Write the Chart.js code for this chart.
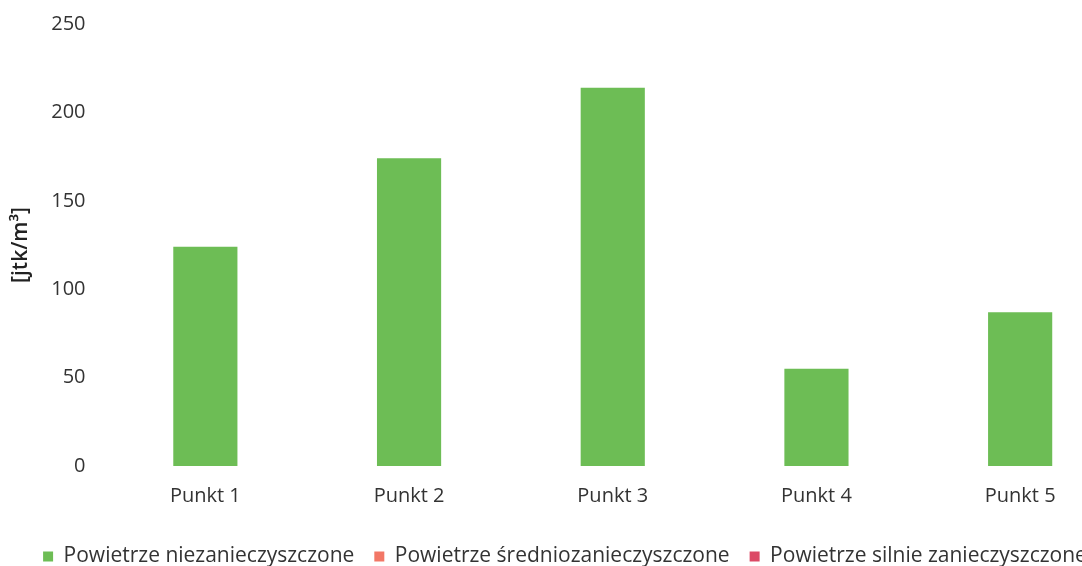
<!DOCTYPE html>
<html>
<head>
<meta charset="utf-8">
<script src="https://cdn.jsdelivr.net/npm/chart.js@4/dist/chart.umd.min.js"></script>
<style>
html,body{margin:0;padding:0;background:#fff;overflow:hidden;}
#wrap{width:1126px;height:566px;position:relative;}
</style>
</head>
<body>
<div id="wrap"><canvas id="c" width="1126" height="566"></canvas></div>
<script>
const categories = ["Punkt 1", "Punkt 2", "Punkt 3", "Punkt 4", "Punkt 5"];
const seriesNames = ["Powietrze niezanieczyszczone", "Powietrze średniozanieczyszczone", "Powietrze silnie zanieczyszczone"];
const cleanAir = [124, 174, 214, 55, 87];
const mediumAir = [null, null, null, null, null];
const heavyAir = [null, null, null, null, null];
const yTicks = [0, 50, 100, 150, 200, 250];
const yTitle = "[jtk/m³]";

const FONT = "'Open Sans', Lato, sans-serif";
new Chart(document.getElementById('c'), {
  type: 'bar',
  data: {
    labels: categories,
    datasets: [
      {label: seriesNames[0], data: cleanAir, backgroundColor: '#6dbd55', grouped: false},
      {label: seriesNames[1], data: mediumAir, backgroundColor: '#f27766', grouped: false},
      {label: seriesNames[2], data: heavyAir, backgroundColor: '#dc4a66', grouped: false}
    ]
  },
  options: {
    responsive: false,
    animation: false,
    layout: {padding: {left: 8, right: 4, top: 0, bottom: -11}},
    datasets: {bar: {categoryPercentage: 1, barPercentage: 0.315}},
    plugins: {
      tooltip: {enabled: false},
      legend: {
        position: 'bottom',
        labels: {
          boxWidth: 10, boxHeight: 10, padding: 20,
          color: '#333', font: {family: FONT, size: 21}
        }
      }
    },
    scales: {
      x: {
        grid: {display: false, drawTicks: false},
        border: {display: false},
        ticks: {color: '#333', font: {family: FONT, size: 20}, padding: 18}
      },
      y: {
        min: 0, max: 250,
        afterBuildTicks: s => { s.ticks = yTicks.map(v => ({value: v})); },
        grid: {display: false, drawTicks: false},
        border: {display: false},
        ticks: {color: '#333', font: {family: FONT, size: 20, lineHeight: 0.6}, padding: 18},
        title: {display: true, text: yTitle, color: '#222', font: {family: FONT, size: 21, weight: '600'}, padding: {top: 0, bottom: 0}}
      }
    }
  }
});
</script>
</body>
</html>
